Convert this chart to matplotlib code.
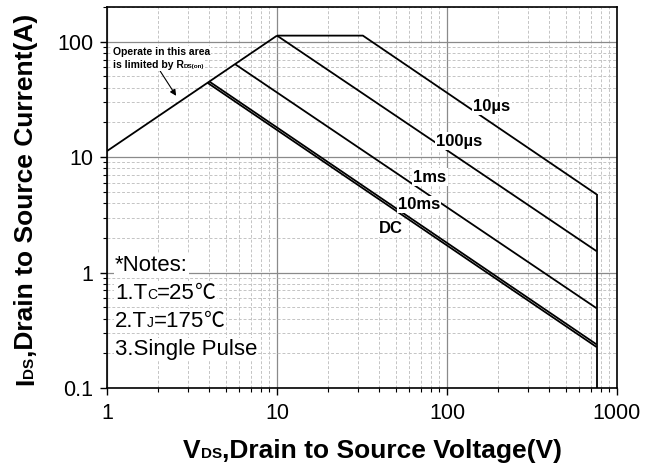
import numpy as np
import matplotlib
matplotlib.use('Agg')
import matplotlib.pyplot as plt
from matplotlib.ticker import LogLocator, NullFormatter
from matplotlib.transforms import IdentityTransform
from matplotlib.patches import Rectangle

W, H = 659, 463
plt.rcParams['font.family'] = ['Liberation Sans', 'DejaVu Sans']

# ---- data ----
rds_v = [1, 10]
rds_i = [11.3, 113]
us10_v = [10, 32, 760]
us10_i = [113, 113, 4.75]
us100_v = [10, 760]
us100_i = [113, 1.53]
ms1_v = [5.66, 760]
ms1_i = [64, 0.49]
ms10_v = [4.0, 760]
ms10_i = [45.2, 0.238]
dc_v = [3.9, 760]
dc_i = [44.1, 0.226]
vlim_v = [760, 760]
vlim_i = [4.75, 0.1]

curve_labels = ['10µs', '100µs', '1ms', '10ms', 'DC']
label_v = [184, 118, 79.4, 68.4, 46.9]
label_i = [27.7, 13.8, 6.7, 3.9, 2.41]

x_ticks = [1, 10, 100, 1000]
x_ticklabels = ['1', '10', '100', '1000']
y_ticks = [0.1, 1, 10, 100]
y_ticklabels = ['0.1', '1', '10', '100']

fig = plt.figure(figsize=(W / 100, H / 100), dpi=100)
ax = fig.add_axes([107 / W, 1 - 388 / H, (617 - 107) / W, (388 - 7) / H])
ax.set_xscale('log')
ax.set_yscale('log')
ax.set_xlim(1, 1000)
ax.set_ylim(0.1, 200)

lw = 1.3
for v, i in [(rds_v, rds_i), (us10_v, us10_i), (us100_v, us100_i), (ms1_v, ms1_i),
             (ms10_v, ms10_i), (dc_v, dc_i), (vlim_v, vlim_i)]:
    ax.plot(v, i, color='black', lw=lw, zorder=2, solid_capstyle='butt')

for s, v, i in zip(curve_labels, label_v, label_i):
    ax.text(v, i, s, ha='center', va='center', fontsize=12, fontweight='bold', zorder=4,
            bbox=dict(boxstyle='square,pad=0.08', fc='white', ec='none'))

ax.set_xticks(x_ticks, x_ticklabels)
ax.set_yticks(y_ticks, y_ticklabels)
ax.xaxis.set_minor_locator(LogLocator(base=10, subs=np.arange(2, 10), numticks=20))
ax.yaxis.set_minor_locator(LogLocator(base=10, subs=np.arange(2, 10), numticks=20))
ax.xaxis.set_minor_formatter(NullFormatter())
ax.yaxis.set_minor_formatter(NullFormatter())
ax.tick_params(which='major', direction='out', length=5, width=1.0, labelsize=15.5, pad=6)
ax.tick_params(which='minor', direction='out', length=3, width=0.8)
ax.tick_params(axis='y', which='major', pad=5)
for sp in ax.spines.values():
    sp.set_linewidth(1.2)
ax.set_axisbelow(True)
ax.grid(which='major', color='#8a8a8a', lw=0.9, ls='-')
ax.grid(which='minor', color='#c4c4c4', lw=0.7, ls=(0, (3, 2)))

ax.annotate('', xy=(2.55, 34), xytext=(2.05, 56),
            arrowprops=dict(arrowstyle='-|>', color='black', lw=0.8, mutation_scale=9,
                            shrinkA=0, shrinkB=0), zorder=4)

renderer = fig.canvas.get_renderer()


def rich(x, y_img, pieces, rotation=0, bg=False, zorder=6):
    xd, yd = x, H - y_img
    offs = 0.0
    arts = []
    for s, size, weight, fam in pieces:
        if rotation == 0:
            px, py = xd + offs, yd
        else:
            px, py = xd, yd + offs
        kw = dict(transform=IdentityTransform(), fontsize=size, fontweight=weight,
                  rotation=rotation, rotation_mode='anchor', ha='left', va='baseline',
                  zorder=zorder)
        if fam is not None:
            kw['family'] = fam
        t = fig.text(px, py, s, **kw)
        ext = t.get_window_extent(renderer)
        offs += ext.width if rotation == 0 else ext.height
        arts.append(t)
    if bg:
        bbs = [a.get_window_extent(renderer) for a in arts]
        x0 = min(b.x0 for b in bbs); x1 = max(b.x1 for b in bbs)
        y0 = min(b.y0 for b in bbs); y1 = max(b.y1 for b in bbs)
        fig.add_artist(Rectangle((x0 - 1, y0 - 1), x1 - x0 + 2, y1 - y0 + 2,
                                 transform=IdentityTransform(), fc='white', ec='none',
                                 zorder=zorder - 0.5))
    return arts


# axis labels
rich(33, 385, [('I', 19, 'bold', None), ('DS', 11, 'bold', None),
               (',Drain to Source Current(A)', 19, 'bold', None)], rotation=90)
rich(183, 458, [('V', 19, 'bold', None), ('DS', 11, 'bold', None),
                (',Drain to Source Voltage(V)', 19, 'bold', None)])

# notes
cjk = ['Noto Sans CJK SC', 'DejaVu Sans']
rich(115, 271, [('*Notes:', 16, 'normal', None)], bg=True)
rich(115, 299, [('1.T', 16, 'normal', None), ('C', 10, 'normal', None),
                ('=25', 16, 'normal', None), ('℃', 15, 'normal', cjk)], bg=True)
rich(115, 327, [('2.T', 16, 'normal', None), ('J', 10, 'normal', None),
                ('=175', 16, 'normal', None), ('℃', 15, 'normal', cjk)], bg=True)
rich(115, 355, [('3.Single Pulse', 16, 'normal', None)], bg=True)

# R_DS(on) annotation
rich(113, 55, [('Operate in this area', 7.5, 'bold', None)], bg=True)
rich(113, 68, [('is limited by R', 7.5, 'bold', None), ('DS(on)', 4.5, 'bold', None)], bg=True)

fig.savefig('out.png', dpi=100)
